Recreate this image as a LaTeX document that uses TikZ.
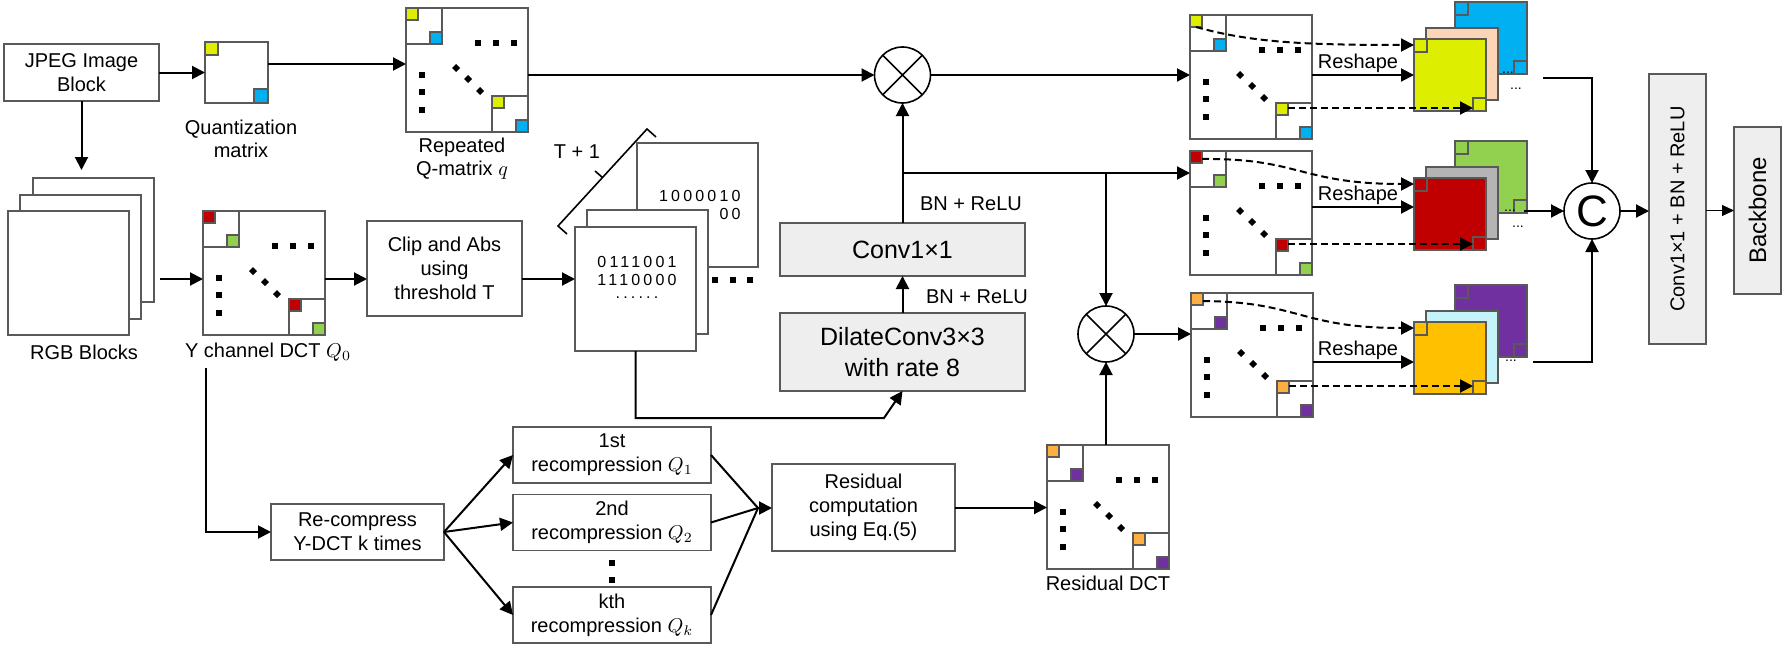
\documentclass[tikz,border=0pt]{standalone}
\usepackage{fontspec}
\setmainfont{Liberation Sans}
\newfontfamily\binfont[LetterSpace=20]{Liberation Sans}
\usetikzlibrary{arrows.meta,calc}
\definecolor{bord}{HTML}{595959}
\definecolor{cyel}{HTML}{DDEE00}
\definecolor{cblue}{HTML}{00B0F0}
\definecolor{cred}{HTML}{C00000}
\definecolor{cgreen}{HTML}{92D050}
\definecolor{corange}{HTML}{FFAE42}
\definecolor{cgold}{HTML}{FFC000}
\definecolor{cpurple}{HTML}{7030A0}
\definecolor{cpeach}{HTML}{FBD5B5}
\definecolor{cgray}{HTML}{B4B4B4}
\definecolor{ccyan}{HTML}{C4F4FA}
\definecolor{boxfill}{HTML}{EEEEEE}
\tikzset{
  every node/.style={font=\fontsize{10}{12}\selectfont},
  box/.style={draw=bord, line width=0.9pt, fill=white, align=center, inner sep=0pt, outer sep=0pt},
  gbox/.style={box, fill=boxfill},
  mat/.style={draw=bord, line width=0.9pt, fill=white, inner sep=0pt, outer sep=0pt, minimum width=61pt, minimum height=62pt},
  sub/.style={draw=bord, line width=0.9pt},
  csq/.style={draw=bord, line width=0.7pt},
  arr/.style={line width=1pt, -{Triangle[length=6.5pt,width=6.5pt]}},
  plainline/.style={line width=1pt},
  darr/.style={arr, dash pattern=on 3.5pt off 2pt},
  lbl/.style={inner sep=0pt, align=center},
  mulnode/.style={draw, circle, line width=0.8pt, minimum size=28pt, inner sep=0pt, outer sep=0pt},
  ell/.style={font=\fontsize{7}{7}\selectfont, inner sep=0pt},
  binbox/.style={box, minimum width=60.5pt, minimum height=62pt, anchor=north west},
  bintxt/.style={lbl, font={\fontsize{8}{9}\selectfont\binfont}},
}
\newcommand{\bigmat}[5]{%
  \node[mat, anchor=north west] (#1) at (#2,#3) {};
  \begin{scope}[shift={(#2,#3)}]
    \draw[sub] (0,0) rectangle (36,36);
    \draw[sub] (86,88) rectangle (122,124);
    \draw[csq, fill=#4] (0,0) rectangle (12,12);
    \draw[csq, fill=#5] (24,24) rectangle (36,36);
    \draw[csq, fill=#4] (86,88) rectangle (98,100);
    \draw[csq, fill=#5] (110,112) rectangle (122,124);
    \foreach \p in {72,90,108} {\fill (\p-3,32) rectangle (\p+3,38);}
    \foreach \p in {67,84,102} {\fill (13,\p-3) rectangle (19,\p+3);}
    \foreach \p/\q in {50/60,62/71,74/83} {\fill (\p-4,\q) -- (\p,\q-4) -- (\p+4,\q) -- (\p,\q+4) -- cycle;}
    \coordinate (#1-tls) at (6,12);
    \coordinate (#1-tle) at (12,8);
    \coordinate (#1-brs) at (98,93);
  \end{scope}}
\newcommand{\cstack}[6]{%
  \begin{scope}[shift={(#2,#3)}]
    \draw[csq, line width=0.9pt, fill=#6] (41,-37) rectangle (113,35);
    \draw[csq, fill=#6] (41,-37) rectangle (54,-24);
    \draw[csq, fill=#6] (100,22) rectangle (113,35);
    \draw[csq, line width=0.9pt, fill=#5] (12,-11) rectangle (84,61);
  \end{scope}
  \node[draw=bord, line width=0.9pt, fill=#4, inner sep=0pt, outer sep=0pt, minimum size=36pt, anchor=north west] (#1) at (#2,#3) {};
  \begin{scope}[shift={(#2,#3)}]
    \draw[csq, fill=#4] (0,0) rectangle (13,13);
    \draw[csq, fill=#4] (59,59) rectangle (72,72);
    \coordinate (#1-tl) at (0,6);
    \coordinate (#1-br) at (59,66);
  \end{scope}}
\begin{document}
\begin{tikzpicture}[x=0.5pt,y=-0.5pt]
\useasboundingbox (0,0) rectangle (1784,648);

% ---------- top-left
\node[box, minimum width=77.5pt, minimum height=28.5pt] (jpeg) at (81.5,72.5) {JPEG Image\\Block};
\node[mat, minimum width=31.5pt, minimum height=30.5pt, anchor=north west] (quant) at (205,42) {};
\draw[csq, fill=cyel] (205,42) rectangle (218,55);
\draw[csq, fill=cblue] (254,89) rectangle (268,103);
\node[lbl, font=\fontsize{10}{11.5}\selectfont] (qlab) at (241,139) {Quantization\\matrix};
\bigmat{rep}{406}{8}{cyel}{cblue}
\node[lbl, font=\fontsize{10}{11.5}\selectfont] (replab) at (462,159) {Repeated\\Q-matrix $q$};

% ---------- RGB and Y DCT
\node[binbox] (rgbback) at (33,178) {};
\node[binbox] (rgbmid) at (20,195) {};
\node[binbox] (rgbfront) at (8,211) {};
\node[lbl] (rgblab) at (84,352) {RGB Blocks};
\bigmat{ydct}{203}{211}{cred}{cgreen}
\node[lbl] (ydctlab) at (268,352) {Y channel DCT $Q_0$};
\node[box, minimum width=77.5pt, minimum height=47.5pt] (clip) at (444.5,268.5) {Clip and Abs\\using\\threshold T};

% ---------- binary stack
\node[binbox] (bback) at (637,143) {};
\node[binbox] (bmid) at (587,210) {};
\node[binbox] (bfront) at (575,227) {};
\node[bintxt, align=right, anchor=east] (btxt1) at (741,205) {1000010\\00};
\node[bintxt] (btxt2) at (637,271) {0111001\\1110000};
\node[bintxt] (btxt3) at (637,298) {......};
\foreach \p in {715,733,750} {\fill (\p-3,277) rectangle (\p+3,283);}
\draw[line width=0.8pt] (567,234) -- (558,226) -- (647,129) -- (656,137);
\draw[line width=0.8pt] (602.5,177.5) -- (595,171);
\node[lbl] (tlab) at (577,152) {T + 1};

% ---------- conv blocks
\node[gbox, minimum width=122.5pt, minimum height=26.5pt, font=\fontsize{12.5}{15}\selectfont] (conv) at (902.5,249.5) {Conv1×1};
\node[gbox, minimum width=122.5pt, minimum height=39pt, font=\fontsize{12.5}{15.5}\selectfont] (dilate) at (902.5,352) {DilateConv3×3\\with rate 8};
\node[lbl] (bn1) at (971,204) {BN + ReLU};
\node[lbl] (bn2) at (977,297) {BN + ReLU};

\node[mulnode] (mul1) at (902.5,75) {};
\draw[line width=0.8pt] (mul1.north west) -- (mul1.south east) (mul1.north east) -- (mul1.south west);
\node[mulnode] (mul2) at (1106,334) {};
\draw[line width=0.8pt] (mul2.north west) -- (mul2.south east) (mul2.north east) -- (mul2.south west);

% ---------- right matrices and stacks
\bigmat{m1}{1190}{15}{cyel}{cblue}
\bigmat{m2}{1190}{151}{cred}{cgreen}
\bigmat{m3}{1191}{293}{corange}{cpurple}
\cstack{f1}{1414}{39}{cyel}{cpeach}{cblue}
\cstack{f2}{1414}{178}{cred}{cgray}{cgreen}
\cstack{f3}{1414}{322}{cgold}{ccyan}{cpurple}
\node[ell] (e1a) at (1508,73) {...};
\node[ell] (e1b) at (1516,89) {...};
\node[ell] (e2a) at (1510,211) {...};
\node[ell] (e2b) at (1518,227) {...};
\node[ell] (e3a) at (1511,361) {...};

\node[mulnode, font=\fontsize{22}{22}\selectfont] (cat) at (1592,211) {C};
\node[gbox, minimum width=28.5pt, minimum height=135pt] (cbr) at (1677.5,209) {};
\node[rotate=90] at (cbr) {Conv1×1 + BN + ReLU};
\node[gbox, minimum width=23.5pt, minimum height=83.5pt] (bb) at (1757.5,210.5) {};
\node[rotate=90, font=\fontsize{12}{12}\selectfont] at (bb) {Backbone};

% ---------- bottom
\node[box, minimum width=86.5pt, minimum height=28pt] (recomp) at (357.5,532) {Re-compress\\Y-DCT k times};
\node[box, minimum width=99pt, minimum height=28pt] (r1) at (612,455) {1st\\recompression $Q_1$};
\node[box, minimum width=99pt, minimum height=28pt] (r2) at (612,522.5) {2nd\\recompression $Q_2$};
\node[box, minimum width=99pt, minimum height=28pt] (rk) at (612,615) {kth\\recompression $Q_k$};
\fill (609,560) rectangle (615,566);
\fill (609,577) rectangle (615,583);
\node[box, minimum width=91.5pt, minimum height=43.5pt] (resid) at (863.5,507.5) {Residual\\computation\\using Eq.(5)};
\bigmat{rdct}{1047}{445}{corange}{cpurple}
\node[lbl] (rdctlab) at (1108,583) {Residual DCT};

% ---------- connectors
\coordinate (yrow) at (0,279);
\draw[arr] (jpeg.east) -- (quant.west);
\draw[arr] ([yshift=4.25pt]quant.east) -- ([yshift=4.25pt]quant.east -| rep.west);
\draw[arr, shorten >=4pt] (jpeg.south) -- (jpeg.south |- rgbback.north);
\draw[arr, shorten <=3pt] (rgbback.east |- yrow) -- (ydct.west |- yrow);
\draw[arr] (ydct.east |- yrow) -- (clip.west |- yrow);
\draw[arr] (clip.east |- yrow) -- (bfront.west |- yrow);
\coordinate (bend) at (884,418);
\draw[arr] (bfront.south) |- (bend) -- (dilate.south);
\draw[arr] (dilate.north) -- (conv.south);
\draw[arr] (conv.north) -- (mul1.south);
\draw[arr] (rep.east |- mul1) -- (mul1.west);
\draw[arr] (mul1.east) -- (m1.west |- mul1);
\coordinate (br) at (902.5,173);
\draw[arr] (br) -- (m2.west |- br);
\draw[arr] (br -| mul2) -- (mul2.north);
\draw[arr] (rdct.north -| mul2) -- (mul2.south);
\draw[arr] (mul2.east) -- (m3.west |- mul2);

\coordinate (ysplit) at (206,368);
\draw[arr] (ysplit) |- (recomp.west);
\draw[arr] (recomp.east) -- (r1.west);
\draw[arr] (recomp.east) -- (r2.west);
\draw[arr] (recomp.east) -- (rk.west);
\coordinate (meet) at (758,508);
\draw[plainline] (r1.east) -- (meet);
\draw[plainline] (r2.east) -- (meet);
\draw[plainline] (rk.east) -- (meet);
\draw[arr] (meet) -- (resid.west |- meet);
\draw[arr] (resid.east) -- (rdct.west |- resid);

% reshape
\draw[arr] (m1.east |- f1.west) -- (f1.west);
\node[lbl, anchor=south] at (1358,73) {Reshape};
\draw[arr] ([yshift=3.5pt]f2.west -| m2.east) -- ([yshift=3.5pt]f2.west);
\node[lbl, anchor=south] at (1358,205) {Reshape};
\draw[arr] ([yshift=-2pt]f3.west -| m3.east) -- ([yshift=-2pt]f3.west);
\node[lbl, anchor=south] at (1358,360) {Reshape};

\draw[darr] (m1-tls) .. controls (1250,42) and (1300,45) .. (f1-tl);
\draw[darr] (m1-brs) -- (m1-brs -| f1-br);
\draw[darr] (m2-tle) .. controls (1300,158) and (1300,184) .. (f2-tl);
\draw[darr] (m2-brs) -- (m2-brs -| f2-br);
\draw[darr] (m3-tle) .. controls (1300,302) and (1300,328) .. (f3-tl);
\draw[darr] (m3-brs) -- (m3-brs -| f3-br);

% concat
\coordinate (s1e) at (1543,78);
\coordinate (s2e) at (1524,211);
\coordinate (s3e) at (1533,362);
\draw[arr] (s1e) -| (cat.north);
\draw[arr] (s2e) -- (cat.west);
\draw[arr] (s3e) -| (cat.south);
\draw[arr] (cat.east) -- (cat.east -| cbr.west);
\draw[line width=0.6pt, -{Triangle[length=6pt,width=5.5pt]}] (cbr.east |- bb) -- (bb.west);
\end{tikzpicture}
\end{document}
